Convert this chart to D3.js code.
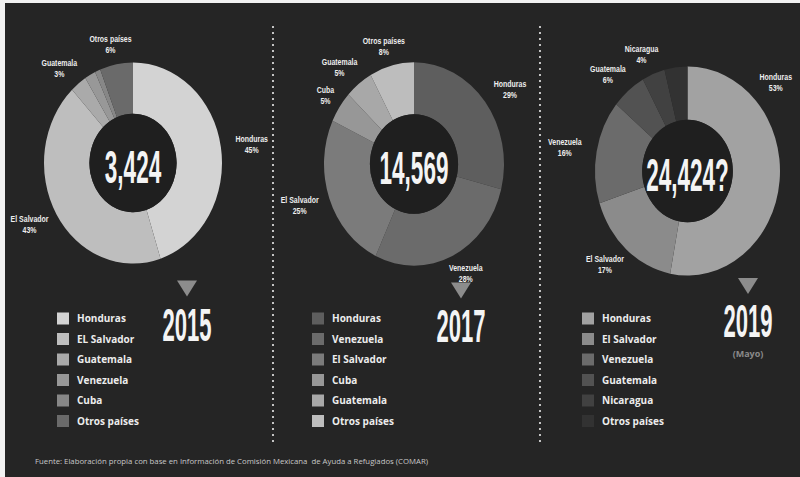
<!DOCTYPE html>
<html><head><meta charset="utf-8">
<script src="https://cdn.jsdelivr.net/npm/d3@7"></script>
<style>
html,body{margin:0;padding:0;background:#f2f2f2;}
svg{display:block;}
</style></head><body>
<svg id="chart" width="800" height="477"></svg>
<script>
// ---------- DATA ----------
const years = ["2015", "2017", "2019"];
const totals = ["3,424", "14,569", "24,424?"];
const yearNotes = ["", "", "(Mayo)"];

const countries2015 = ["Honduras", "El Salvador", "Guatemala", "Venezuela", "Cuba", "Otros países"];
const legend2015 = ["Honduras", "EL Salvador", "Guatemala", "Venezuela", "Cuba", "Otros países"];
const values2015 = [45, 43, 3, 2, 1, 6];
const labeled2015 = [true, true, true, false, false, true];

const countries2017 = ["Honduras", "Venezuela", "El Salvador", "Cuba", "Guatemala", "Otros países"];
const legend2017 = ["Honduras", "Venezuela", "El Salvador", "Cuba", "Guatemala", "Otros países"];
const values2017 = [29, 28, 25, 5, 5, 8];
const labeled2017 = [true, true, true, true, true, true];

const countries2019 = ["Honduras", "El Salvador", "Venezuela", "Guatemala", "Nicaragua", "Otros países"];
const legend2019 = ["Honduras", "El Salvador", "Venezuela", "Guatemala", "Nicaragua", "Otros países"];
const values2019 = [53, 17, 16, 6, 4, 4];
const labeled2019 = [true, true, true, true, true, false];

const sourceText = "Fuente: Elaboración propia con base en Información de Comisión Mexicana  de Ayuda a Refugiados (COMAR)";

// ---------- STYLE / LAYOUT ----------
const colors2015 = ["#d3d3d3", "#bebebe", "#aaaaaa", "#989898", "#878787", "#6a6a6a"];
const colors2017 = ["#5e5e5e", "#6b6b6b", "#7b7b7b", "#979797", "#a8a8a8", "#bdbdbd"];
const colors2019 = ["#a2a2a2", "#8b8b8b", "#6b6b6b", "#525252", "#414141", "#323232"];

const panels = [
  {cx: 133, cy: 163, r: 89, yx: 187, triY: 288.5, yearY: 341, sqX: 57, nudge: {}, angle: {}},
  {cx: 414, cy: 164, r: 90, yx: 461, triY: 290.5, yearY: 342, sqX: 312, nudge: {"Cuba": 12}, angle: {}},
  {cx: 687.5, cy: 171, r: 92.5, yx: 748, triY: 286, yearY: 337, sqX: 582, nudge: {}, angle: {"Honduras": Math.PI / 4}}
];
const datasets = [
  {c: countries2015, lg: legend2015, v: values2015, lab: labeled2015, col: colors2015},
  {c: countries2017, lg: legend2017, v: values2017, lab: labeled2017, col: colors2017},
  {c: countries2019, lg: legend2019, v: values2019, lab: labeled2019, col: colors2019}
];
const SY = 1.13;      // vertical stretch of the picture
const BG = "#252525";

const svg = d3.select("#chart");
svg.append("rect").attr("x", 5).attr("y", 3).attr("width", 795).attr("height", 474).attr("fill", BG);

// dotted separators
[273, 540].forEach(x => {
  svg.append("line").attr("x1", x).attr("x2", x).attr("y1", 27).attr("y2", 446)
    .attr("stroke", "#e8e8e8").attr("stroke-width", 2.2)
    .attr("stroke-linecap", "round").attr("stroke-dasharray", "0 6");
});

const pie = d3.pie().sort(null).value(d => d.v);

panels.forEach((p, i) => {
  const ds = datasets[i];
  const rows = ds.c.map((c, k) => ({name: c, legend: ds.lg[k], v: ds.v[k], lab: ds.lab[k], col: ds.col[k]}));
  const color = d3.scaleOrdinal().domain(ds.c).range(ds.col);
  const arcs = pie(rows);
  const arc = d3.arc().innerRadius(p.r * 0.49).outerRadius(p.r);

  const g = svg.append("g").attr("transform", `translate(${p.cx},${p.cy}) scale(1,${SY})`);
  g.selectAll("path").data(arcs).join("path")
    .attr("d", arc).attr("fill", d => color(d.data.name));
  g.append("circle").attr("r", p.r * 0.49).attr("fill", "#1f1f1f");

  // center total
  svg.append("text")
    .attr("transform", `translate(${p.cx},${p.cy + 19.5}) scale(0.49,1)`)
    .attr("text-anchor", "middle")
    .attr("font-family", "Liberation Sans, Arial, sans-serif")
    .attr("font-weight", "bold").attr("font-size", 46).attr("fill", "#f4f4f4")
    .text(totals[i]);

  // slice labels
  const L = p.r * 1.35;
  arcs.filter(d => d.data.lab).forEach(d => {
    const a = p.angle[d.data.name] !== undefined ? p.angle[d.data.name] : (d.startAngle + d.endAngle) / 2;
    const x = p.cx + L * Math.sin(a) + (p.nudge[d.data.name] || 0);
    const y = p.cy - L * Math.cos(a);
    [[d.data.name, y - 2.5], [d.data.v + "%", y + 8.5]].forEach(([t, yy]) => {
      svg.append("text")
        .attr("transform", `translate(${x},${yy}) scale(0.82,1)`)
        .attr("text-anchor", "middle")
        .attr("font-family", "Liberation Sans, Arial, sans-serif")
        .attr("font-weight", "bold").attr("font-size", 8.5).attr("fill", "#eeeeee")
        .text(t);
    });
  });

  // triangle marker
  svg.append("path").attr("transform", `translate(${p.yx},${p.triY})`)
    .attr("d", "M-10,-8L10,-8L0,8Z").attr("fill", "#8c8c8c");

  // year
  svg.append("text")
    .attr("transform", `translate(${p.yx},${p.yearY}) scale(0.48,1)`)
    .attr("text-anchor", "middle")
    .attr("font-family", "Liberation Sans, Arial, sans-serif")
    .attr("font-weight", "bold").attr("font-size", 46).attr("fill", "#f4f4f4")
    .text(years[i]);
  if (yearNotes[i]) {
    svg.append("text").attr("x", p.yx).attr("y", p.yearY + 20)
      .attr("text-anchor", "middle")
      .attr("font-family", "Open Sans, sans-serif").attr("font-weight", "bold")
      .attr("font-size", 9).attr("fill", "#8a8a8a").text(yearNotes[i]);
  }

  // legend
  const ly = d3.scalePoint().domain(rows.map(r => r.legend)).range([318.5, 421]);
  const lg = svg.append("g");
  lg.selectAll("rect").data(rows).join("rect")
    .attr("x", p.sqX).attr("y", r => ly(r.legend) - 6).attr("width", 12).attr("height", 12)
    .attr("fill", r => color(r.name));
  lg.selectAll("text").data(rows).join("text")
    .attr("x", p.sqX + 20).attr("y", r => ly(r.legend) + 3.6)
    .attr("font-family", "Open Sans, sans-serif").attr("font-weight", "bold")
    .attr("font-size", 10).attr("fill", "#ececec")
    .text(r => r.legend);
});

// source
svg.append("text").attr("x", 35).attr("y", 463.5)
  .attr("font-family", "Open Sans, sans-serif").attr("font-size", 7.4)
  .attr("fill", "#c8c8c8").style("white-space", "pre")
  .attr("textLength", 393).attr("lengthAdjust", "spacingAndGlyphs")
  .text(sourceText);
</script>
</body></html>
